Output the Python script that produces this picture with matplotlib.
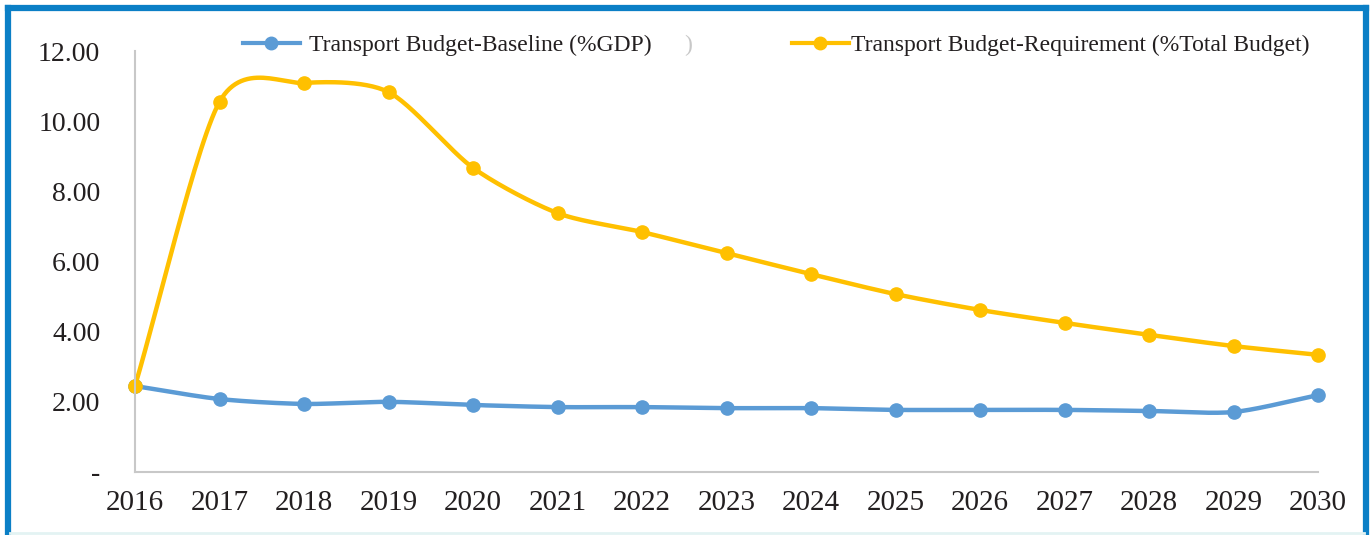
import numpy as np
import matplotlib.pyplot as plt
from matplotlib.lines import Line2D

years = [2016, 2017, 2018, 2019, 2020, 2021, 2022, 2023,
         2024, 2025, 2026, 2027, 2028, 2029, 2030]
baseline_gdp = [2.45, 2.08, 1.94, 2.00, 1.91, 1.85, 1.85, 1.82,
                1.82, 1.77, 1.77, 1.77, 1.74, 1.71, 2.19]
requirement_budget = [2.45, 10.55, 11.09, 10.83, 8.67, 7.38, 6.84, 6.24,
                      5.64, 5.07, 4.62, 4.25, 3.91, 3.59, 3.34]
y_ticks = [0, 2, 4, 6, 8, 10, 12]
y_labels = ['-', '2.00', '4.00', '6.00', '8.00', '10.00', '12.00']

BLUE = '#5B9BD5'
YELLOW = '#FFC000'
TEXT = '#231F20'
FONT = 'Liberation Serif'


# Excel style smoothed line (cardinal spline through the points)
def smooth(x, y, n=30, tension=0.8):
    x = np.asarray(x, float)
    y = np.asarray(y, float)
    px = np.concatenate([[2 * x[0] - x[1]], x, [2 * x[-1] - x[-2]]])
    py = np.concatenate([[2 * y[0] - y[1]], y, [2 * y[-1] - y[-2]]])
    xs, ys = [], []
    t = np.linspace(0, 1, n)
    h00 = 2 * t**3 - 3 * t**2 + 1
    h10 = t**3 - 2 * t**2 + t
    h01 = -2 * t**3 + 3 * t**2
    h11 = t**3 - t**2
    for i in range(1, len(px) - 2):
        m1x = tension * (px[i + 1] - px[i - 1]) / 2
        m2x = tension * (px[i + 2] - px[i]) / 2
        m1y = tension * (py[i + 1] - py[i - 1]) / 2
        m2y = tension * (py[i + 2] - py[i]) / 2
        xs.append(h00 * px[i] + h10 * m1x + h01 * px[i + 1] + h11 * m2x)
        ys.append(h00 * py[i] + h10 * m1y + h01 * py[i + 1] + h11 * m2y)
    return np.concatenate(xs), np.concatenate(ys)


fig = plt.figure(figsize=(13.7, 5.35), dpi=100)
ax = fig.add_axes([135 / 1370, 1 - 472 / 535, (1318 - 135) / 1370, (472 - 51) / 535])

# series
bx, by = smooth(years, baseline_gdp)
ax.plot(bx, by, color=BLUE, lw=3.2, solid_capstyle='round', clip_on=False)
ax.plot(years, baseline_gdp, 'o', color=BLUE, ms=9.5, clip_on=False)
rx, ry = smooth(years, requirement_budget)
ax.plot(rx, ry, color=YELLOW, lw=3.2, solid_capstyle='round', clip_on=False)
ax.plot(years, requirement_budget, 'o', color=YELLOW, ms=9.5, clip_on=False)

ax.set_xlim(2016, 2030)
ax.set_ylim(0, 12)
ax.set_xticks(years)
ax.set_xticklabels([str(y) for y in years], fontsize=21, family=FONT, color=TEXT)
ax.set_yticks(y_ticks)
ax.set_yticklabels(y_labels, fontsize=20, family=FONT, color=TEXT)
ax.tick_params(axis='both', length=0)
ax.tick_params(axis='x', pad=13)
ax.tick_params(axis='y', pad=25)

for side in ['top', 'right']:
    ax.spines[side].set_visible(False)
for side in ['left', 'bottom']:
    ax.spines[side].set_color('#C8C8C8')
    ax.spines[side].set_linewidth(1.5)

# legend, two separate entries placed like the original
h1 = Line2D([], [], color=BLUE, lw=3, marker='o', ms=9)
h2 = Line2D([], [], color=YELLOW, lw=3, marker='o', ms=9)
leg1 = fig.legend([h1], ['Transport Budget-Baseline (%GDP)'], loc='center left',
                  bbox_to_anchor=(243 / 1370, 1 - 45 / 535), frameon=False,
                  borderpad=0, borderaxespad=0, handlelength=2.4, handletextpad=0.4,
                  prop={'family': FONT, 'size': 17})
leg2 = fig.legend([h2], ['Transport Budget-Requirement (%Total Budget)'], loc='center left',
                  bbox_to_anchor=(792 / 1370, 1 - 45 / 535), frameon=False,
                  borderpad=0, borderaxespad=0, handlelength=2.4, handletextpad=0.1,
                  prop={'family': FONT, 'size': 17})
for leg in (leg1, leg2):
    for t in leg.get_texts():
        t.set_color(TEXT)
fig.text(688 / 1370, 1 - 45 / 535, ')', fontsize=17, family=FONT,
         color='#C8C8C8', ha='center', va='center')

# blue frame around the figure
frame = dict(color='#0B7FC6', lw=4.5, transform=fig.transFigure)
fig.add_artist(Line2D([8 / 1370, 8 / 1370], [0, 1 - 8 / 535], **frame))
fig.add_artist(Line2D([8 / 1370, 1366 / 1370], [1 - 8 / 535, 1 - 8 / 535], **frame))
fig.add_artist(Line2D([1366 / 1370, 1366 / 1370], [0, 1 - 8 / 535], **frame))
fig.add_artist(Line2D([10 / 1370, 1364 / 1370], [2 / 535, 2 / 535],
                      color='#E3F3F3', lw=2, transform=fig.transFigure))

fig.savefig('out.png', dpi=100)
